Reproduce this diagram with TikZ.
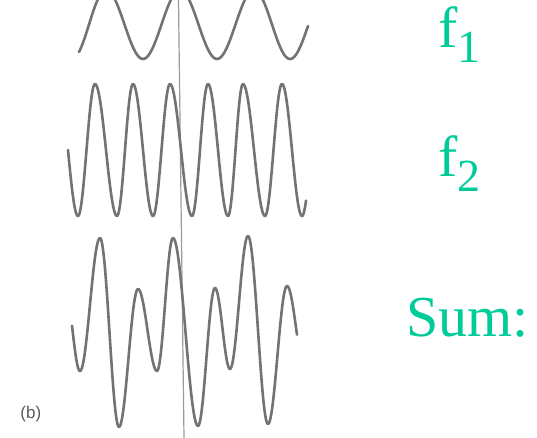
\documentclass[tikz,border=0pt]{standalone}
\usepackage{fontspec}
\setmainfont{Liberation Serif}
\newfontfamily\labelsans{Liberation Sans}
\definecolor{labgreen}{RGB}{0,204,153}
\definecolor{wavegray}{RGB}{115,115,115}
\definecolor{tagGray}{RGB}{90,90,90}
\definecolor{axisgray}{RGB}{155,155,155}
\tikzset{
  wave/.style={draw=wavegray, line width=1.3pt, line cap=round, line join=round},
  axisline/.style={draw=axisgray, line width=0.6pt},
  lab/.style={text=labgreen, inner sep=0pt, anchor=base west, font=\fontsize{29}{30}\selectfont},
  tag/.style={text=tagGray, inner sep=0pt, anchor=base west, font=\labelsans\fontsize{8.5}{9}\selectfont}
}
\newcommand\wavesegs[1]{%
  \foreach \xa/\ya/\xb/\yb/\da/\db in {#1}
    \draw[wave] plot[domain=\da:\db, samples=25, variable=\t]
      (\t,{(\ya+\yb)/2+(\ya-\yb)/2*cos(180*(\t-\xa)/(\xb-\xa))});%
}
\begin{document}
\begin{tikzpicture}[x=0.5pt,y=-0.5pt]
\useasboundingbox (0,0) rectangle (537,438);
\fill[white] (0,0) rectangle (537,438);
% vertical reference line
\coordinate (vtop) at (178.5,0);
\coordinate (vbot) at (184,438);
\draw[axisline] (vtop) -- (vbot);
\begin{scope}
\clip (0,0) rectangle (537,438);
% f1
\wavesegs{72/59/106/-10/79/106, 106/-10/143/59/106/143, 143/59/180/-10/143/180,
  180/-10/217/59/180/217, 217/59/254/-10/217/254, 254/-10/290/59/254/290,
  290/59/327/-10/290/308}
% f2
\wavesegs{58/84/78/216/68/78, 78/216/95/84/78/95, 95/84/117/216/95/117,
  117/216/133/84/117/133, 133/84/153/216/133/153, 153/216/170/84/153/170,
  170/84/192/216/170/192, 192/216/208/84/192/208, 208/84/228/216/208/228,
  228/216/243/84/228/243, 243/84/265/216/243/265, 265/216/282/84/265/282,
  282/84/302/216/282/302, 302/216/320/84/302/306}
% sum
\wavesegs{65/289/80/371/72/80, 80/371/100/238/80/100, 100/238/119/427/100/119,
  119/427/138/289/119/138, 138/289/157/371/138/157, 157/371/173/238/157/173,
  173/238/198/426/173/198, 198/426/215/288/198/215, 215/288/230/369/215/230,
  230/369/248/236/230/248, 248/236/268/424/248/268, 268/424/287/286/268/287,
  287/286/305/369/287/297}
\end{scope}
% labels
\node[lab] (f1) at (438,48) {f\raisebox{-7.5pt}{\fontsize{23}{24}\selectfont 1}};
\node[lab] (f2) at (438,177) {f\raisebox{-7.5pt}{\fontsize{23}{24}\selectfont 2}};
\node[lab] (sum) at (406,337) {Sum:};
\node[tag] (b) at (20,419) {(b)};
\end{tikzpicture}
\end{document}
